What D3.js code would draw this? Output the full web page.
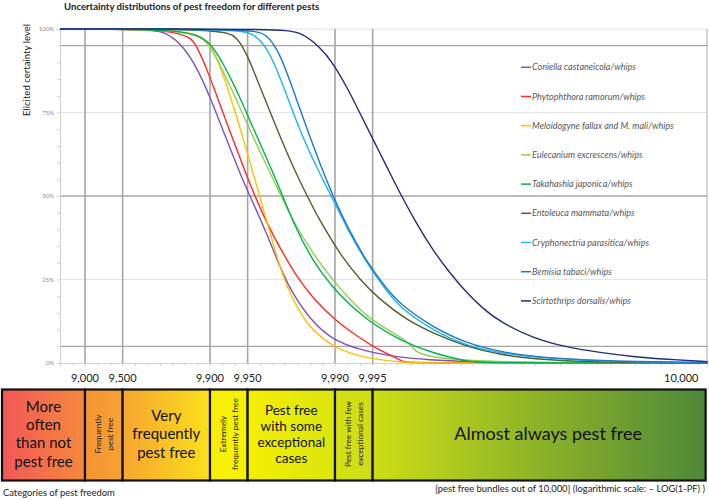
<!DOCTYPE html>
<html><head><meta charset="utf-8">
<script src="https://cdn.jsdelivr.net/npm/d3@7"></script>
<style>
body{margin:0;background:#fff;}
svg{display:block;font-family:Lato,'Open Sans',sans-serif;}
</style>
</head><body>
<svg id="chart" width="709" height="500"></svg>
<script>
// ---- data (x = -log10(1-PF), y = certainty %) ----
const pestNames = [
  "Coniella castaneicola/whips",
  "Phytophthora ramorum/whips",
  "Meloidogyne fallax and M. mali/whips",
  "Eulecanium excrescens/whips",
  "Takahashia japonica/whips",
  "Entoleuca mammata/whips",
  "Cryphonectria parasitica/whips",
  "Bemisia tabaci/whips",
  "Scirtothrips dorsalis/whips"
];
const pestColors = ["#7F4FC0","#FF2A2A","#FFC000","#92D050","#00B050","#4F6228","#1EB4F0","#1F78C8","#1F2F78"];

const coniella = [[0.8,100],[1.52,100],[1.624,99.2],[1.76,96.2],[1.894,88.7],[2.0,79.7],[2.134,66.8],[2.264,54.6],[2.32,50.0],[2.454,38.8],[2.56,28.6],[2.664,20.4],[2.824,12.0],[2.984,6.9],[3.2,3.9],[3.464,1.9],[3.76,0.9],[4.056,0.4],[4.64,0],[5.98,0]];
const phytophthora = [[0.8,100],[1.8,100],[1.894,95.2],[2.0,85.7],[2.134,71.8],[2.266,58.8],[2.344,51.2],[2.454,42.0],[2.56,34.4],[2.694,25.8],[2.824,19.4],[2.984,13.4],[3.144,8.9],[3.304,4.9],[3.44,2.4],[3.544,0.4],[3.576,0],[5.98,0]];
const meloidogyne = [[0.8,100],[1.84,100],[1.974,96.7],[2.054,91.7],[2.134,83.2],[2.214,73.7],[2.294,63.5],[2.386,51.5],[2.454,42.5],[2.534,31.8],[2.614,22.8],[2.72,14.9],[2.826,9.5],[2.984,4.9],[3.144,2.4],[3.36,0.9],[3.576,0.1],[3.68,0],[5.98,0]];
const eulecanium = [[0.8,100],[1.88,100],[2.0,95.2],[2.106,87.2],[2.214,78.7],[2.32,69.5],[2.534,52.8],[2.666,42.3],[2.826,32.6],[2.986,24.6],[3.146,17.9],[3.306,12.3],[3.52,8.0],[3.624,4.9],[3.712,0],[5.98,0]];
const takahashia = [[0.8,100],[1.84,100],[2.0,96.2],[2.106,89.7],[2.214,81.7],[2.32,72.5],[2.56,52.3],[2.666,41.8],[2.826,30.2],[2.986,22.4],[3.146,16.4],[3.306,11.6],[3.52,6.8],[3.784,2.9],[4.054,0.5],[4.15,0],[5.98,0]];
const entoleuca = [[0.8,100],[2.104,100],[2.214,97.7],[2.294,92.7],[2.4,82.7],[2.506,72.8],[2.614,63.0],[2.72,54.3],[2.826,46.4],[2.88,42.6],[3.04,32.5],[3.2,24.9],[3.36,18.9],[3.574,12.9],[3.786,8.9],[4.054,4.9],[4.32,2.5],[4.584,1.2],[4.984,0.4],[5.44,0.1],[5.98,0]];
const cryphonectria = [[0.8,100],[2.214,100],[2.346,98.7],[2.454,94.7],[2.56,85.7],[2.666,74.8],[2.774,64.8],[2.88,56.6],[2.986,48.8],[3.094,40.5],[3.254,29.8],[3.414,21.5],[3.52,16.6],[3.786,9.7],[4.054,5.1],[4.32,3.0],[4.584,1.7],[4.984,0.8],[5.384,0.35],[5.98,0.1]];
const bemisia = [[0.8,100],[2.32,100],[2.454,98.7],[2.56,92.7],[2.666,81.7],[2.774,70.3],[2.88,59.6],[2.986,49.8],[3.094,41],[3.254,30.2],[3.414,22.2],[3.52,17.6],[3.786,10.6],[4.054,5.9],[4.32,3.4],[4.584,1.9],[4.984,0.9],[5.384,0.4],[5.98,0.15]];
const scirtothrips = [[0.8,100],[2.56,100],[2.72,99.2],[2.88,94.7],[2.986,89.7],[3.094,82.7],[3.2,74.8],[3.306,66.8],[3.414,58.8],[3.52,50.8],[3.654,41.6],[3.786,33.6],[3.92,26.9],[4.054,21.0],[4.186,16.2],[4.32,12.3],[4.586,7.4],[4.854,4.7],[5.12,3.1],[5.386,1.9],[5.654,1.1],[5.98,0.4]];
const pestSeries = [coniella, phytophthora, meloidogyne, eulecanium, takahashia, entoleuca, cryphonectria, bemisia, scirtothrips];

const xTickValues = [9000, 9500, 9900, 9950, 9990, 9995];
const xTickLabels = ["9,000","9,500","9,900","9,950","9,990","9,995"];
const xEndLabel = "10,000";
const yTickValues = [0, 25, 50, 75, 100];
const yDarkLines = [5, 50, 95];
const yLightLines = [25, 75, 100];

const categoryNames = [
  ["More","often","than not","pest free"],
  ["Frequently","pest free"],
  ["Very","frequently","pest free"],
  ["Extremely","frequently pest free"],
  ["Pest free","with some","exceptional","cases"],
  ["Pest free with few","exceptional cases"],
  ["Almost always pest free"]
];
const categoryVertical = [false,true,false,true,false,true,false];
const categoryBounds = [0.336, 1, 1.301, 2, 2.301, 3, 3.301, 5.965];
const categoryColorFrom = ["#F2575A","#F59535","#F7A532","#F8EE08","#F3EF02","#D4E213","#CDDD16"];
const categoryColorTo   = ["#F5893C","#F6A232","#FBE01A","#F6F200","#DCE50E","#CEDE15","#4E883A"];

// ---- drawing ----
const svg = d3.select("#chart");
const x = d3.scaleLinear().domain([0.8, 5.98]).range([60, 707.5]);
const y = d3.scaleLinear().domain([0, 100]).range([363, 29]);
const Lof = v => -Math.log10(1 - v / 10000);

// title
svg.append("text").attr("x", 64).attr("y", 9.5)
  .attr("font-size", 9.6).attr("font-weight", "bold").attr("fill", "#222")
  .text("Uncertainty distributions of pest freedom for different pests");

// y axis title
svg.append("text").attr("transform", "translate(30,70) rotate(-90)")
  .attr("text-anchor", "middle").attr("font-size", 9.6).attr("fill", "#222")
  .text("Elicited certainty level");

// horizontal gridlines
svg.append("g").selectAll("line").data(yLightLines).join("line")
  .attr("x1", x.range()[0]).attr("x2", x.range()[1])
  .attr("y1", d => y(d)).attr("y2", d => y(d))
  .attr("stroke", "#e4e4e4").attr("stroke-width", 1.2);
svg.append("g").selectAll("line").data(yDarkLines).join("line")
  .attr("x1", x.range()[0]).attr("x2", x.range()[1])
  .attr("y1", d => y(d)).attr("y2", d => y(d))
  .attr("stroke", "#a6a6a6").attr("stroke-width", 1.3);

// vertical gridlines
svg.append("g").selectAll("line").data(xTickValues).join("line")
  .attr("x1", d => x(Lof(d))).attr("x2", d => x(Lof(d)))
  .attr("y1", y(100)).attr("y2", y(0))
  .attr("stroke", "#a6a6a6").attr("stroke-width", 1.6);
svg.append("line").attr("x1", x.range()[1] - 0.5).attr("x2", x.range()[1] - 0.5)
  .attr("y1", y(100)).attr("y2", y(0)).attr("stroke", "#bfbfbf").attr("stroke-width", 1.3);

// y axis
const yAxis = d3.axisLeft(y).tickValues(d3.range(0, 101, 5)).tickSize(3).tickFormat("");
const gy = svg.append("g").attr("transform", `translate(${x.range()[0]},0)`).call(yAxis);
gy.selectAll("path,line").attr("stroke", "#d0d0d0");
svg.append("g").selectAll("text").data(yTickValues).join("text")
  .attr("x", 54).attr("y", d => y(d) + 2)
  .attr("text-anchor", "end").attr("font-size", 6).attr("fill", "#8a8a8a")
  .text(d => d + "%");

// x axis (minor ticks)
const xAxis = d3.axisBottom(x).tickValues(d3.range(0.8, 5.98, 0.1)).tickSize(3).tickFormat("");
const gx = svg.append("g").attr("transform", `translate(0,${y(0)})`).call(xAxis);
gx.selectAll("path,line").attr("stroke", "#d0d0d0");
svg.append("g").selectAll("text").data(xTickValues).join("text")
  .attr("x", (d) => x(Lof(d))).attr("y", 382)
  .attr("text-anchor", "middle").attr("font-size", 11).attr("fill", "#222")
  .text((d, i) => xTickLabels[i]);
svg.append("text").attr("x", x.range()[1] - 9).attr("y", 382)
  .attr("text-anchor", "end").attr("font-size", 11).attr("fill", "#222").text(xEndLabel);

// curves
const line = d3.line().x(d => x(d[0])).y(d => y(d[1])).curve(d3.curveBasis);
svg.append("g").selectAll("path").data(pestSeries).join("path")
  .attr("d", line).attr("fill", "none")
  .attr("stroke", (d, i) => pestColors[i]).attr("stroke-width", 1.4);

// legend
const lg = svg.append("g").selectAll("g").data(pestNames).join("g")
  .attr("transform", (d, i) => `translate(521,${67.3 + i * 29.2})`);
lg.append("line").attr("x1", 0).attr("x2", 10).attr("y1", 0).attr("y2", 0)
  .attr("stroke", (d, i) => pestColors[i]).attr("stroke-width", 1.5);
lg.append("text").attr("x", 11).attr("y", 3)
  .attr("font-size", 9).attr("font-style", "italic").attr("fill", "#595959")
  .text(d => d);

// category boxes
const defs = svg.append("defs");
categoryNames.forEach((c, i) => {
  const g = defs.append("linearGradient").attr("id", "cg" + i)
    .attr("x1", "0%").attr("x2", "100%").attr("y1", "0%").attr("y2", "0%");
  g.append("stop").attr("offset", "0%").attr("stop-color", categoryColorFrom[i]);
  g.append("stop").attr("offset", "100%").attr("stop-color", categoryColorTo[i]);
});
const boxTop = 389.5, boxBot = 480.5, boxMid = (boxTop + boxBot) / 2;
const cats = categoryNames.map((n, i) => ({
  names: n, i, x0: x(categoryBounds[i]), x1: x(categoryBounds[i + 1]), vertical: categoryVertical[i]
}));
const cg = svg.append("g").selectAll("g").data(cats).join("g");
cg.append("rect").attr("x", d => d.x0).attr("y", boxTop)
  .attr("width", d => d.x1 - d.x0).attr("height", boxBot - boxTop)
  .attr("fill", d => `url(#cg${d.i})`).attr("stroke", "#111").attr("stroke-width", 2.2);
cg.each(function(d) {
  const g = d3.select(this);
  const cx = (d.x0 + d.x1) / 2 + (d.i === 6 ? 9 : 0);
  if (d.vertical) {
    const lh = 11.5;
    const t = g.append("text").attr("transform", `translate(${cx},${boxMid - 1}) rotate(-90)`)
      .attr("text-anchor", "middle").attr("font-size", 8.3).attr("fill", "#222");
    d.names.forEach((s, k) => {
      t.append("tspan").attr("x", 0)
        .attr("y", (k - (d.names.length - 1) / 2) * lh + 3).text(s);
    });
  } else {
    const fs = d.i === 6 ? 18 : (d.i === 4 ? 13.5 : 15);
    const lh = d.i === 4 ? 16 : 18.3;
    const t = g.append("text").attr("text-anchor", "middle").attr("font-size", fs).attr("fill", "#111");
    d.names.forEach((s, k) => {
      t.append("tspan").attr("x", cx)
        .attr("y", boxMid - 1 + (k - (d.names.length - 1) / 2) * lh + fs * 0.35).text(s);
    });
  }
});

// bottom captions
svg.append("text").attr("x", 3).attr("y", 496).attr("font-size", 9.4).attr("fill", "#222")
  .text("Categories of pest freedom");
svg.append("text").attr("x", 705).attr("y", 492).attr("text-anchor", "end")
  .attr("font-size", 9.4).attr("fill", "#222")
  .text("[pest free bundles out of 10,000] (logarithmic scale: \u2013 LOG(1-PF) )");
</script>
</body></html>
